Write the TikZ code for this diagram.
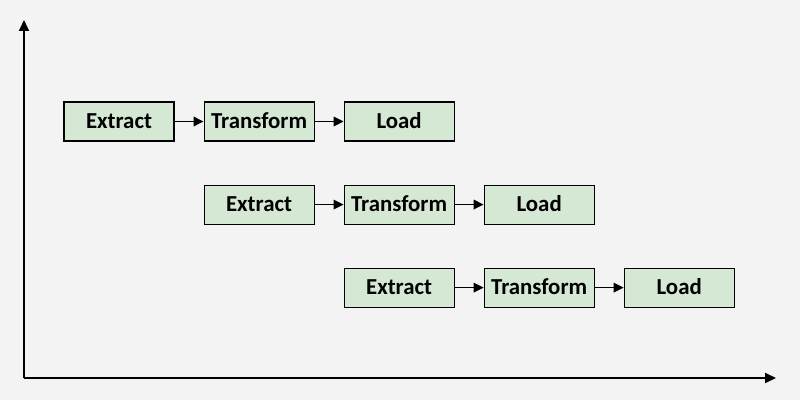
\documentclass[tikz,border=0pt]{standalone}
\usepackage{fontspec}
\setmainfont{Carlito}
\usetikzlibrary{arrows.meta, positioning}

\definecolor{bgcol}{HTML}{F3F3F3}
\definecolor{stepfill}{HTML}{D5E8D4}

\begin{document}
\begin{tikzpicture}[
        node distance=0.58cm, auto,
        stage/.style={rectangle, draw=black, line width=0.6pt, fill=stepfill, minimum width=2.2cm, minimum height=0.78cm, inner sep=0pt, text height=8.4pt, text depth=0pt, font=\fontsize{13}{15}\selectfont\bfseries},
        flow/.style={-{Triangle[length=0.2cm, width=0.19cm]}, line width=1pt, black},
        axis/.style={-{Triangle[length=0.22cm, width=0.2cm]}, line width=1.1pt, black}
    ]

    % --- background and frame ---
    \fill [bgcol] (0,0) rectangle (16,-8);
    \useasboundingbox (0,0) rectangle (16,-8);

    % --- axes ---
    \coordinate (origin) at (0.48,-7.56);
    \coordinate (ytop) at (0.48,-0.4);
    \coordinate (xend) at (15.52,-7.56);
    \draw [axis] (origin) -- (ytop);
    \draw [axis] (origin) -- (xend);

    % --- 1. FIRST PIPELINE ---
    \node [stage] (ext1) at (2.38,-2.43) {Extract};
    \node [stage, right=of ext1] (tra1) {Transform};
    \node [stage, right=of tra1] (loa1) {Load};

    % --- 2. SECOND PIPELINE ---
    \node [stage, below=0.86cm of tra1] (ext2) {Extract};
    \node [stage, right=of ext2] (tra2) {Transform};
    \node [stage, right=of tra2] (loa2) {Load};

    % --- 3. THIRD PIPELINE ---
    \node [stage, below=0.86cm of tra2] (ext3) {Extract};
    \node [stage, right=of ext3] (tra3) {Transform};
    \node [stage, right=of tra3] (loa3) {Load};

    % Connectors
    \foreach \i in {1,2,3} {
        \draw [flow] (ext\i) -- (tra\i);
        \draw [flow] (tra\i) -- (loa\i);
    }

\end{tikzpicture}
\end{document}
